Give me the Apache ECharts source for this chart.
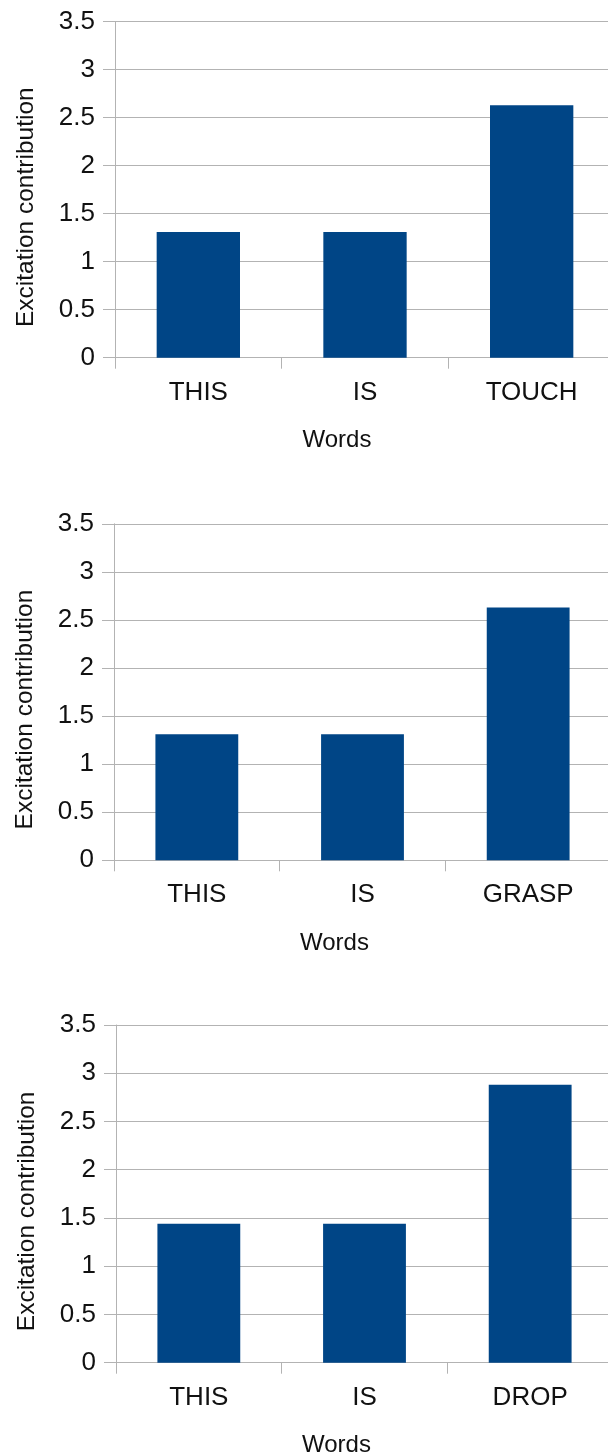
<!DOCTYPE html>
<html>
<head>
<meta charset="utf-8">
<script src="https://cdn.jsdelivr.net/npm/echarts@6/dist/echarts.min.js"></script>
<style>html,body{margin:0;padding:0;background:#fff;}#c{width:608px;height:1456px;}</style>
</head>
<body>
<div id="c"></div>
<script>
var categories1 = ['THIS', 'IS', 'TOUCH'];
var categories2 = ['THIS', 'IS', 'GRASP'];
var categories3 = ['THIS', 'IS', 'DROP'];
var values1 = [1.31, 1.31, 2.63];
var values2 = [1.31, 1.31, 2.63];
var values3 = [1.44, 1.44, 2.88];
var yTicks = { min: 0, max: 3.5, interval: 0.5 };
var xTitle = 'Words';
var yTitle = 'Excitation contribution';

var FONT = 'Liberation Sans';
var GRID_COLOR = '#b3b3b3';
var BAR_COLOR = '#004586';
var grids = [
  { left: 115, top: 21.7, width: 500, height: 336, outerBoundsMode: 'none', containLabel: false },
  { left: 114, top: 523.8, width: 497, height: 336.5, outerBoundsMode: 'none', containLabel: false },
  { left: 116, top: 1025, width: 497, height: 337.7, outerBoundsMode: 'none', containLabel: false }
];
var cats = [categories1, categories2, categories3];
var vals = [values1, values2, values3];

var xAxes = [], yAxes = [], series = [];
for (var i = 0; i < 3; i++) {
  xAxes.push({
    type: 'category', gridIndex: i, data: cats[i],
    boundaryGap: true,
    axisLine: { show: true, lineStyle: { color: GRID_COLOR, width: 1 } },
    axisTick: { show: true, length: 11, lineStyle: { color: GRID_COLOR } },
    axisLabel: { color: '#111', fontFamily: FONT, fontSize: 26, margin: 22 },
    name: xTitle, nameLocation: 'middle', nameGap: 71,
    nameTextStyle: { color: '#111', fontFamily: FONT, fontSize: 24, padding: [0, 56, 0, 0] }
  });
  yAxes.push({
    type: 'value', gridIndex: i,
    min: yTicks.min, max: yTicks.max, interval: yTicks.interval,
    axisLine: { show: true, lineStyle: { color: GRID_COLOR, width: 1 } },
    axisTick: { show: true, length: 12, lineStyle: { color: GRID_COLOR } },
    splitLine: { show: true, lineStyle: { color: GRID_COLOR, width: 1 } },
    axisLabel: { color: '#111', fontFamily: FONT, fontSize: 26, margin: 20 },
    name: yTitle, nameLocation: 'middle', nameGap: 76, nameRotate: 90,
    nameTextStyle: { color: '#111', fontFamily: FONT, fontSize: 24.5, padding: [0, 35, 0, 0] }
  });
  series.push({
    type: 'bar', xAxisIndex: i, yAxisIndex: i, data: vals[i],
    barWidth: '50%', itemStyle: { color: BAR_COLOR }, silent: true
  });
}

var chart = echarts.init(document.getElementById('c'), null, { renderer: 'canvas' });
chart.setOption({
  animation: false,
  backgroundColor: '#ffffff',
  grid: grids,
  xAxis: xAxes,
  yAxis: yAxes,
  series: series
});
</script>
</body>
</html>
